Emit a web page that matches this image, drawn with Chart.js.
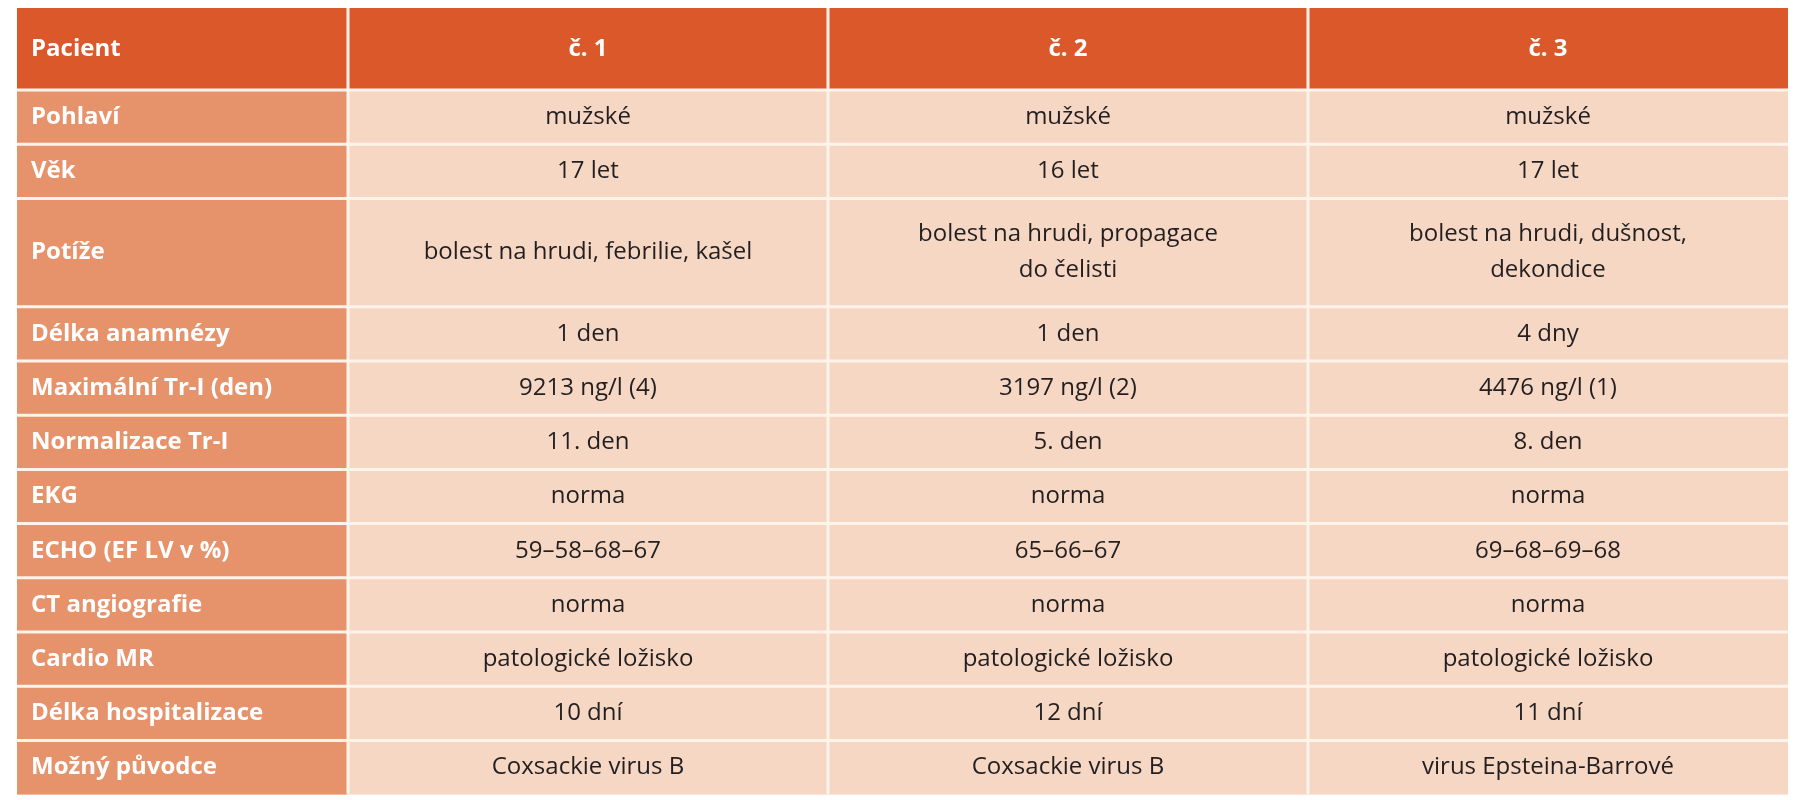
<!DOCTYPE html>
<html><head><meta charset="utf-8">
<script src="https://cdn.jsdelivr.net/npm/chart.js@4/dist/chart.umd.min.js"></script>
<style>html,body{margin:0;padding:0;background:#fff}#w{width:1811px;height:800px}</style>
</head><body><div id="w"><canvas id="c"></canvas></div>
<script>
const headers = ["Pacient", "č. 1", "č. 2", "č. 3"];
const rowLabels = ["Pohlaví","Věk","Potíže","Délka anamnézy","Maximální Tr-I (den)","Normalizace Tr-I","EKG","ECHO (EF LV v %)","CT angiografie","Cardio MR","Délka hospitalizace","Možný původce"];
const patient1 = ["mužské","17 let",["bolest na hrudi, febrilie, kašel"],"1 den","9213 ng/l (4)","11. den","norma","59–58–68–67","norma","patologické ložisko","10 dní","Coxsackie virus B"];
const patient2 = ["mužské","16 let",["bolest na hrudi, propagace","do čelisti"],"1 den","3197 ng/l (2)","5. den","norma","65–66–67","norma","patologické ložisko","12 dní","Coxsackie virus B"];
const patient3 = ["mužské","17 let",["bolest na hrudi, dušnost,","dekondice"],"4 dny","4476 ng/l (1)","8. den","norma","69–68–69–68","norma","patologické ložisko","11 dní","virus Epsteina-Barrové"];
const rowSpan = [1,1,2,1,1,1,1,1,1,1,1,1];

const colEdges = [17,348,828,1308,1788];
const tableTop = 8, headH = 82, rowH = 54.2;

const tablePlugin = {
  id:'table',
  afterDraw(chart){
    const ctx = chart.ctx;
    const cols = [patient1, patient2, patient3];
    ctx.save();
    ctx.fillStyle = '#DB582A';
    ctx.fillRect(colEdges[0], tableTop, colEdges[4]-colEdges[0], headH);
    ctx.font = 'bold 24px "Open Sans"';
    ctx.fillStyle = '#fff';
    ctx.textBaseline = 'middle';
    headers.forEach((h,i)=>{
      if(i===0){ctx.textAlign='left'; ctx.fillText(h, colEdges[0]+14, tableTop+headH/2);}
      else {ctx.textAlign='center'; ctx.fillText(h,(colEdges[i]+colEdges[i+1])/2, tableTop+headH/2);}
    });
    let y = tableTop+headH;
    rowLabels.forEach((lab,r)=>{
      const h = rowH*rowSpan[r];
      ctx.fillStyle='#E6936C';
      ctx.fillRect(colEdges[0], y, colEdges[1]-colEdges[0], h);
      ctx.fillStyle='#F6D7C4';
      ctx.fillRect(colEdges[1], y, colEdges[4]-colEdges[1], h);
      ctx.fillStyle='#fff'; ctx.textAlign='left';
      ctx.font='bold 24px "Open Sans"';
      ctx.fillText(lab, colEdges[0]+14, y+h/2);
      ctx.fillStyle='#231F20'; ctx.textAlign='center';
      ctx.font='24px "Open Sans"';
      cols.forEach((col,c)=>{
        const v = col[r]; const lines = Array.isArray(v)?v:[v];
        const cx=(colEdges[c+1]+colEdges[c+2])/2;
        lines.forEach((ln,k)=>{
          ctx.fillText(ln, cx, y+h/2+(k-(lines.length-1)/2)*36);
        });
      });
      y+=h;
    });
    ctx.strokeStyle='#FFF3EA'; ctx.lineWidth=3;
    ctx.beginPath();
    for(let i=1;i<4;i++){ctx.moveTo(colEdges[i],tableTop);ctx.lineTo(colEdges[i],y);}
    let yy=tableTop+headH;
    rowLabels.forEach((l,r)=>{ctx.moveTo(colEdges[0],yy);ctx.lineTo(colEdges[4],yy);yy+=rowH*rowSpan[r];});
    ctx.stroke();
    ctx.restore();
  }
};

new Chart(document.getElementById('c'),{
  type:'bar',
  data:{labels:rowLabels,datasets:[]},
  options:{responsive:true,maintainAspectRatio:false,animation:false,
    plugins:{legend:{display:false},tooltip:{enabled:false}},
    scales:{x:{display:false},y:{display:false}}},
  plugins:[tablePlugin]
});
</script></body></html>
